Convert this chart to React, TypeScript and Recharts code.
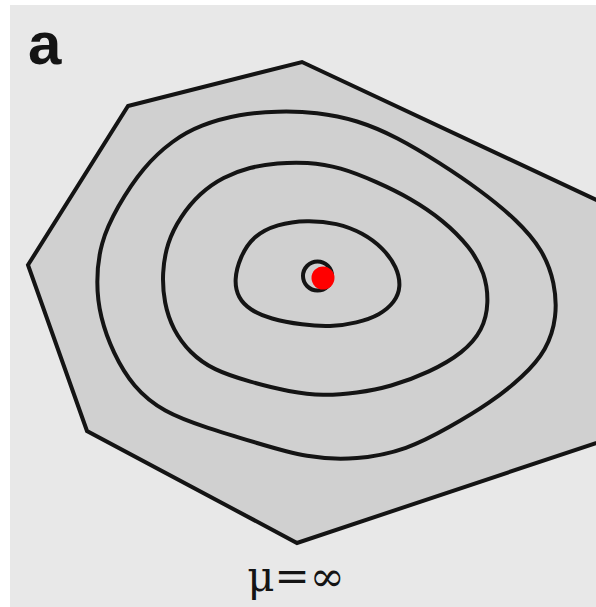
import React from 'react';
import { ScatterChart, Scatter, XAxis, YAxis } from 'recharts';

// outline of the region (right side runs past the frame)
const hull = [
  { x: 128, y: 106 }, { x: 302, y: 62 }, { x: 620, y: 211 }, { x: 620, y: 435 },
  { x: 297, y: 543 }, { x: 87, y: 431 }, { x: 28, y: 265 },
];

const level1 = [
  { x: 253, y: 236 }, { x: 277, y: 224 }, { x: 307, y: 220 }, { x: 337, y: 223 }, { x: 363, y: 233 },
  { x: 383, y: 248 }, { x: 397, y: 267 }, { x: 401, y: 287 }, { x: 395, y: 302 }, { x: 380, y: 315 },
  { x: 357, y: 323 }, { x: 330, y: 327 }, { x: 303, y: 325 }, { x: 270, y: 319 }, { x: 250, y: 310 },
  { x: 238, y: 298 }, { x: 234, y: 280 }, { x: 240, y: 257 },
];

const level2 = [
  { x: 223, y: 177 }, { x: 250, y: 167 }, { x: 277, y: 163 }, { x: 307, y: 162 }, { x: 340, y: 167 },
  { x: 377, y: 182 }, { x: 410, y: 198 }, { x: 443, y: 220 }, { x: 470, y: 247 }, { x: 485, y: 273 },
  { x: 489, y: 303 }, { x: 483, y: 330 }, { x: 463, y: 353 }, { x: 430, y: 372 }, { x: 390, y: 387 },
  { x: 357, y: 393 }, { x: 323, y: 396 }, { x: 290, y: 392 }, { x: 250, y: 382 }, { x: 213, y: 370 },
  { x: 190, y: 353 }, { x: 173, y: 330 }, { x: 164, y: 303 }, { x: 162, y: 273 }, { x: 167, y: 243 },
  { x: 180, y: 217 }, { x: 200, y: 193 },
];

const level3 = [
  { x: 173, y: 140 }, { x: 200, y: 125 }, { x: 240, y: 114 }, { x: 277, y: 111 }, { x: 317, y: 112 },
  { x: 357, y: 120 }, { x: 397, y: 137 }, { x: 440, y: 163 }, { x: 480, y: 190 }, { x: 517, y: 220 },
  { x: 543, y: 250 }, { x: 555, y: 283 }, { x: 557, y: 317 }, { x: 547, y: 350 }, { x: 523, y: 377 },
  { x: 490, y: 403 }, { x: 450, y: 427 }, { x: 407, y: 450 }, { x: 357, y: 460 }, { x: 307, y: 458 },
  { x: 257, y: 443 }, { x: 207, y: 428 }, { x: 163, y: 412 }, { x: 133, y: 387 }, { x: 113, y: 353 },
  { x: 100, y: 317 }, { x: 96, y: 283 }, { x: 100, y: 243 }, { x: 117, y: 207 }, { x: 143, y: 167 },
];

const innerRing = [{ x: 317.5, y: 276 }];
const optimum = [{ x: 323, y: 278 }];

const STROKE = '#141414';
const W = 4;
const noDot = () => null;

export default function App() {
  return (
    <div style={{ position: 'absolute', left: 0, top: 0, width: 596, height: 607, background: '#fff', overflow: 'hidden' }}>
      <div style={{ position: 'absolute', left: 10, top: 5, width: 586, height: 602, background: '#e8e8e8' }} />
      <div style={{ position: 'absolute', left: 0, top: 0 }}>
        <ScatterChart width={596} height={607} margin={{ top: 0, right: 0, bottom: 0, left: 0 }}>
          <XAxis type="number" dataKey="x" domain={[0, 596]} hide allowDataOverflow />
          <YAxis type="number" dataKey="y" domain={[0, 607]} reversed hide allowDataOverflow />
          <Scatter data={hull} line={{ stroke: STROKE, strokeWidth: W, fill: '#d0d0d0', strokeLinejoin: 'miter' }} lineJointType="linearClosed" shape={noDot} isAnimationActive={false} />
          <Scatter data={level3} line={{ stroke: STROKE, strokeWidth: W }} lineJointType="basisClosed" shape={noDot} isAnimationActive={false} />
          <Scatter data={level2} line={{ stroke: STROKE, strokeWidth: W }} lineJointType="basisClosed" shape={noDot} isAnimationActive={false} />
          <Scatter data={level1} line={{ stroke: STROKE, strokeWidth: W }} lineJointType="basisClosed" shape={noDot} isAnimationActive={false} />
          <Scatter
            data={innerRing}
            isAnimationActive={false}
            shape={(p: any) => <circle cx={p.cx} cy={p.cy} r={14.5} fill="none" stroke={STROKE} strokeWidth={W} />}
          />
          <Scatter
            data={optimum}
            isAnimationActive={false}
            shape={(p: any) => <circle cx={p.cx} cy={p.cy} r={11.5} fill="#ff0000" />}
          />
        </ScatterChart>
      </div>
      <svg width={596} height={607} style={{ position: 'absolute', left: 0, top: 0, pointerEvents: 'none' }}>
        <text x={28} y={64} fontFamily="'Liberation Sans', Arial, sans-serif" fontWeight="bold" fontSize={60} fill="#141414">a</text>
        <text x={296} y={591} textAnchor="middle" fontFamily="'DejaVu Serif', 'Liberation Serif', serif" fontSize={42} fill="#141414">μ=∞</text>
      </svg>
    </div>
  );
}
